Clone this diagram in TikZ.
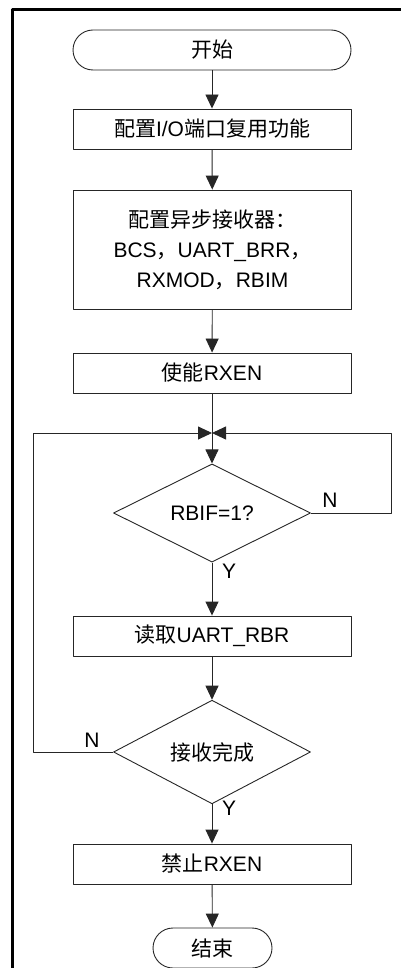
\documentclass[tikz,border=0pt]{standalone}
\usepackage{fontspec}
\setmainfont{Liberation Sans}
\newfontfamily\cjk{Noto Sans CJK SC}
\usetikzlibrary{arrows.meta,shapes.geometric}
\newcommand{\zh}[1]{{\cjk #1}}
\begin{document}
\begin{tikzpicture}[x=1pt,y=-1pt,line join=round,
    font=\fontsize{21pt}{30pt}\selectfont,
    flow/.style={draw=black!85,line width=0.9pt},
    arrow/.style={flow,-{Triangle[length=14pt,width=13pt]}},
    procbox/.style={flow,rectangle,minimum width=278pt,minimum height=40pt,inner sep=0pt},
    termbox/.style={flow,rectangle,rounded corners=20pt,minimum height=40pt,inner sep=0pt},
    decision/.style={flow,diamond,minimum width=197pt,minimum height=79pt,inner sep=0pt},
    tag/.style={inner sep=0pt}]
  % Match the artwork frame.
  \useasboundingbox (0,0) rectangle (401,968);

  % Outer frame, cut off on the right and at the bottom.
  \draw[line width=2.7pt] (12.5,968) -- (12.5,9.5) -- (401,9.5);

  % Steps, top to bottom.
  \node[termbox,minimum width=278pt] (start) at (212,50) {\zh{开始}};
  \node[procbox] (pinmux) at (212,129) {\zh{配置}I/O\zh{端口复用功能}};
  \node[procbox,minimum height=119pt,align=center] (rxcfg) at (212.5,249.5)
    {\zh{配置异步接收器：}\\BCS\zh{，}UART\_BRR\zh{，}\\ RXMOD\zh{，}RBIM};
  \node[procbox] (rxen) at (212,373) {\zh{使能}RXEN};
  \node[decision] (rbif) at (212,513) {RBIF=1?};
  \node[procbox] (rdbuf) at (212,636) {\zh{读取}UART\_RBR};
  \node[decision] (done) at (212,752) {\zh{接收完成}};
  \node[procbox] (rxdis) at (212,864) {\zh{禁止}RXEN};
  \node[termbox,minimum width=119pt] (stop) at (212.5,948) {\zh{结束}};

  % Loop corners and the point where both loops come back in.
  \coordinate (join) at (212,433);
  \coordinate (rloop) at (391,433);
  \coordinate (lloop) at (33,433);

  % Main flow.
  \draw[arrow] (start) -- (pinmux);
  \draw[arrow] (pinmux) -- (rxcfg);
  \draw[arrow] (rxcfg) -- (rxen);
  \draw[arrow] (rxen) -- (rbif);
  \draw[arrow] (rbif) -- (rdbuf);
  \draw[arrow] (rdbuf) -- (done);
  \draw[arrow] (done) -- (rxdis);
  \draw[arrow] (rxdis) -- (stop);

  % Loops back to the flag test.
  \draw[arrow] (rbif.east) -| (rloop) -- (join);
  \draw[arrow] (done.west) -| (lloop) -- (join);

  % Branch labels.
  \node[tag] (rbifno) at (330,500) {N};
  \node[tag] (rbifyes) at (229,571) {Y};
  \node[tag] (doneno) at (92,740) {N};
  \node[tag] (doneyes) at (229,808) {Y};
\end{tikzpicture}
\end{document}
